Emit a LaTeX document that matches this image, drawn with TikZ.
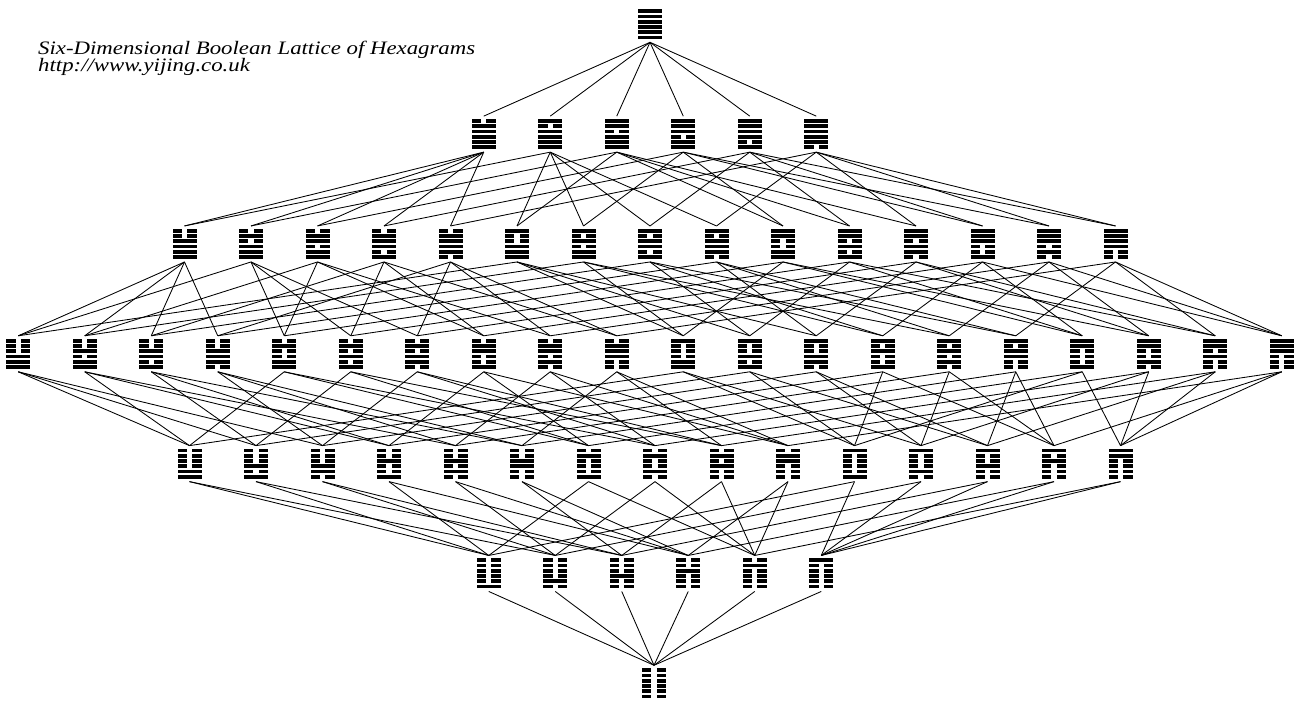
\documentclass[tikz,border=0pt]{standalone}
\usepackage{fontspec}
\newfontfamily\titlefont{Liberation Serif}
\begin{document}
\begin{tikzpicture}[x=1pt,y=-1pt,
  hexnode/.style={minimum width=24pt,minimum height=30pt,inner sep=0pt,outer sep=0pt,outer ysep=3pt},
  link/.style={line width=0.85pt,black},
  titletext/.style={anchor=base west,inner sep=0pt,font=\titlefont\itshape\fontsize{19}{19}\selectfont}]
\useasboundingbox (0,0) rectangle (1300,702);
\fill[white] (0,0) rectangle (1300,702);
\def\T{3.75}\def\G{1.5}
\foreach \r/\L/\n/\cx in {0/{63}/1/650,
  1/{31,47,55,59,61,62}/6/650,
  2/{15,23,27,29,30,39,43,45,46,51,53,54,57,58,60}/15/650,
  3/{7,11,13,14,19,21,22,25,26,28,35,37,38,41,42,44,49,50,52,56}/20/650,
  4/{3,5,6,9,10,12,17,18,20,24,33,34,36,40,48}/15/655,
  5/{1,2,4,8,16,32}/6/655,
  6/{0}/1/654}{
  \foreach \v [count=\i] in \L {
    \pgfmathsetmacro\hx{\cx+(\i-(\n+1)/2)*66.5}
    \pgfmathsetmacro\hy{24.3+109.83*\r}
    \node[hexnode] (h\v) at (\hx,\hy) {};
    \foreach \p in {0,...,5}{
      \pgfmathtruncatemacro\bit{mod(floor(\v/2^(5-\p)),2)}
      \pgfmathsetmacro\yt{\hy-15+\p*(\T+\G)}
      \ifnum\bit=1
        \fill (\hx-12,\yt) rectangle ++(24,\T);
      \else
        \fill (\hx-12,\yt) rectangle ++(9.3,\T);
        \fill (\hx+2.7,\yt) rectangle ++(9.3,\T);
      \fi
    }
  }
}
\foreach \v in {1,...,63}{
  \foreach \b in {0,...,5}{
    \pgfmathtruncatemacro\bit{mod(floor(\v/2^\b),2)}
    \ifnum\bit=1
      \pgfmathtruncatemacro\w{\v-2^\b}
      \draw[link] (h\v.south) -- (h\w.north);
    \fi
  }
}
\node[titletext] (title) at (38,54.5) {\scalebox{1.2}[1]{Six-Dimensional Boolean Lattice of Hexagrams}};
\node[titletext] (url) at (38,71.5) {\scalebox{1.2}[1]{http://www.yijing.co.uk}};
\end{tikzpicture}
\end{document}
